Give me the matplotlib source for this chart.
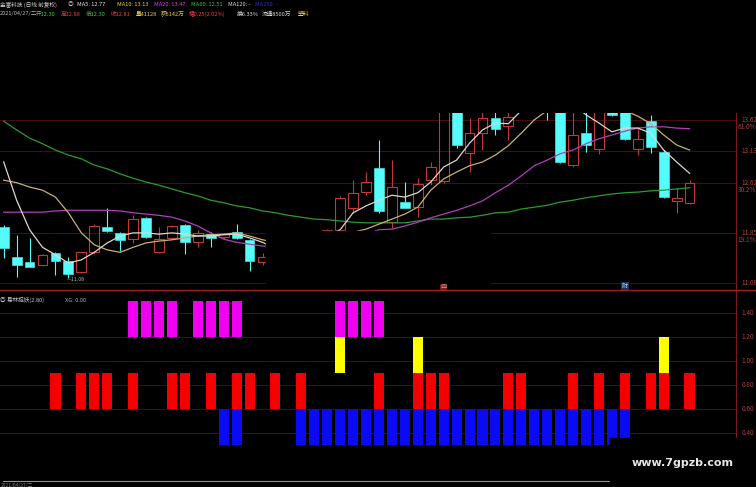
import matplotlib
matplotlib.use('Agg')
import matplotlib.pyplot as plt
from matplotlib.patches import Rectangle
from matplotlib.lines import Line2D
from matplotlib.transforms import blended_transform_factory

plt.rcParams['font.family'] = ['Noto Sans CJK SC', 'DejaVu Sans']

# daily candles
opens = [11.89, 11.42, 11.34, 11.29, 11.48, 11.35, 11.18, 11.49, 11.89, 11.80,
         11.70, 12.04, 11.49, 11.72, 11.93, 11.65, 11.78, 11.73, 11.81, 11.69,
         11.34, 11.40, 11.42, 11.50, 11.58, 11.66, 11.85, 12.20, 12.45, 12.83,
         11.97, 12.29, 12.21, 12.64, 12.62, 14.00, 13.07, 13.39, 13.63, 13.50,
         13.75, 14.30, 14.40, 14.00, 12.88, 13.39, 13.14, 13.90, 13.90, 13.14,
         13.58, 13.09, 12.31, 12.28]
highs = [11.92, 11.77, 11.72, 11.47, 11.50, 11.41, 11.50, 11.94, 12.20, 11.82,
         12.08, 12.06, 11.89, 11.92, 11.94, 11.85, 11.81, 11.80, 11.94, 11.70,
         11.48, 11.45, 11.55, 11.62, 11.70, 11.86, 12.38, 12.64, 12.77, 13.28,
         12.96, 12.61, 12.67, 12.93, 14.05, 14.30, 13.63, 13.78, 13.72, 13.90,
         14.40, 14.70, 14.60, 14.10, 13.80, 13.75, 13.85, 14.00, 14.00, 13.49,
         13.68, 13.12, 12.52, 12.64]
lows = [11.40, 11.10, 11.25, 11.27, 11.13, 11.08, 11.16, 11.47, 11.82, 11.51,
        11.64, 11.72, 11.48, 11.70, 11.46, 11.57, 11.57, 11.70, 11.71, 11.19,
        11.29, 11.36, 11.38, 11.45, 11.52, 11.60, 11.83, 12.12, 12.40, 12.12,
        11.88, 12.19, 12.05, 12.56, 12.60, 13.15, 12.77, 13.12, 13.36, 13.28,
        13.72, 14.00, 13.60, 12.92, 12.85, 13.09, 13.05, 13.66, 13.28, 13.04,
        13.07, 12.36, 12.12, 12.26]
closes = [11.56, 11.29, 11.26, 11.45, 11.35, 11.14, 11.49, 11.91, 11.83, 11.69,
          12.02, 11.73, 11.70, 11.91, 11.65, 11.80, 11.72, 11.78, 11.72, 11.35,
          11.42, 11.41, 11.50, 11.58, 11.66, 11.84, 12.36, 12.44, 12.61, 12.15,
          12.53, 12.20, 12.58, 12.85, 14.05, 13.20, 13.39, 13.63, 13.46, 13.65,
          14.30, 14.45, 13.95, 12.93, 13.36, 13.20, 13.75, 13.68, 13.30, 13.30,
          13.17, 12.37, 12.36, 12.60]

# moving averages
ma5 = [12.93, 12.32, 11.85, 11.57, 11.45, 11.32, 11.37, 11.49, 11.64, 11.75,
       11.80, 11.80, 11.78, 11.80, 11.78, 11.75, 11.75, 11.77, 11.78, 11.72,
       11.65, 11.55, 11.50, 11.55, 11.65, 11.75, 11.85, 12.12, 12.23, 12.32,
       12.40, 12.37, 12.44, 12.61, 12.85, 12.96, 13.23, 13.44, 13.55, 13.54,
       13.75, 13.95, 14.05, 13.95, 13.85, 13.68, 13.55, 13.41, 13.47, 13.47,
       13.39, 13.12, 12.93, 12.75]
ma10 = [12.64, 12.60, 12.53, 12.48, 12.37, 12.12, 11.80, 11.61, 11.53, 11.49,
        11.57, 11.64, 11.67, 11.69, 11.72, 11.75, 11.77, 11.78, 11.80, 11.75,
        11.69, 11.65, 11.62, 11.62, 11.65, 11.70, 11.75, 11.81, 11.86, 11.94,
        12.02, 12.10, 12.21, 12.48, 12.66, 12.77, 12.87, 12.93, 13.04, 13.19,
        13.39, 13.60, 13.75, 13.85, 13.90, 13.95, 13.90, 13.85, 13.75, 13.66,
        13.54, 13.36, 13.20, 13.12]
ma20 = [12.13, 12.13, 12.13, 12.13, 12.15, 12.16, 12.16, 12.16, 12.16, 12.15,
        12.12, 12.10, 12.08, 12.05, 11.99, 11.91, 11.80, 11.70, 11.65, 11.62,
        11.59, 11.58, 11.57, 11.57, 11.58, 11.60, 11.64, 11.70, 11.78, 11.85,
        11.86, 11.91, 11.97, 12.04, 12.10, 12.16, 12.23, 12.31, 12.44, 12.56,
        12.71, 12.87, 12.96, 13.06, 13.12, 13.22, 13.30, 13.36, 13.42, 13.47,
        13.49, 13.49, 13.47, 13.46]
ma60 = [13.58, 13.44, 13.31, 13.22, 13.12, 13.04, 12.98, 12.88, 12.82, 12.74,
        12.67, 12.61, 12.56, 12.50, 12.44, 12.39, 12.32, 12.28, 12.23, 12.20,
        12.15, 12.12, 12.08, 12.05, 12.02, 12.01, 11.99, 11.97, 11.96, 11.96,
        11.96, 11.96, 11.99, 12.02, 12.02, 12.04, 12.05, 12.08, 12.12, 12.13,
        12.18, 12.21, 12.24, 12.29, 12.32, 12.36, 12.39, 12.42, 12.44, 12.45,
        12.47, 12.48, 12.50, 12.52]

# indicator sticks: which days get which block
red_days = [4, 6, 7, 8, 10, 13, 14, 16, 18, 19, 21, 23, 29, 32, 33, 34,
            39, 40, 44, 46, 48, 50, 51, 53]
magenta_days = [10, 11, 12, 13, 15, 16, 17, 18, 26, 27, 28, 29]
yellow_days = [26, 32, 51]
blue_days = [17, 18, 23, 24, 25, 26, 27, 28, 29, 30, 31, 32, 33, 34, 35,
             36, 37, 38, 39, 40, 41, 42, 43, 44, 45, 46, 47, 48]

price_ticks = [13.6, 13.1, 12.6, 11.8, 11.0]
price_labels = ['13.62', '13.13', '12.62', '11.85', '11.08']
price_sub = {13.6: '61.0%', 12.6: '30.2%', 11.8: '19.1%'}
ind_ticks = [1.4, 1.2, 1.0, 0.8, 0.6, 0.4]
ind_labels = ['1.40', '1.20', '1.00', '0.80', '0.60', '0.40']

W, H = 756, 487
fig = plt.figure(figsize=(W / 100, H / 100), dpi=100, facecolor='black')


def fx(x):
    return x / W


def fy(y):
    return 1 - y / H


ax = fig.add_axes([0, fy(290), 736 / W, (290 - 113) / H])
ax2 = fig.add_axes([0, fy(480), 736 / W, (480 - 290) / H])
for a in (ax, ax2):
    a.set_facecolor('black')
    a.set_xticks([])
    a.set_yticks([])
    for s in a.spines.values():
        s.set_visible(False)
    a.set_xlim(-0.286, 56.59)

ax.set_ylim(10.89, 13.71)
ax2.set_ylim(0.008, 1.592)

grid_col = '#4c1414'
for p in price_ticks:
    ax.axhline(p, color=grid_col, lw=0.6, zorder=0)
for v in ind_ticks:
    ax2.axhline(v, color=grid_col, lw=0.6, zorder=0)

# candles
up_col = '#c03838'
dn_col = '#54fcfc'
w = 0.76
for i in range(len(opens)):
    o, h, l, c = opens[i], highs[i], lows[i], closes[i]
    col = up_col if c >= o else dn_col
    ax.vlines(i, l, min(o, c), color=col, lw=0.8, zorder=2)
    ax.vlines(i, max(o, c), h, color=col, lw=0.8, zorder=2)
    if c >= o:
        ax.add_patch(Rectangle((i - w / 2, o), w, max(c - o, 0.01), fill=False,
                               edgecolor=col, lw=0.8, zorder=3))
    else:
        ax.add_patch(Rectangle((i - w / 2, c), w, o - c, facecolor=col,
                               edgecolor=col, lw=0.4, zorder=3))

days = list(range(len(opens)))
ax.plot(days, ma60, color='#2e9a2e', lw=0.9, zorder=4)
ax.plot(days, ma20, color='#b040b8', lw=0.9, zorder=4)
ax.plot(days, ma10, color='#c8b070', lw=0.9, zorder=4)
ax.plot(days, ma5, color='#e0d4d0', lw=0.9, zorder=4)

ax.text(4.9, 11.06, '—11.08', color='#b8b8b8', fontsize=3.8, va='center')
ax.text(34, 10.95, '西', color='#f0a080', fontsize=4.5, ha='center', va='center',
        bbox=dict(boxstyle='square,pad=0.1', fc='#702020', ec='none'))
ax.text(48, 10.95, '财', color='#a0d0ff', fontsize=4.5, ha='center', va='center',
        bbox=dict(boxstyle='square,pad=0.1', fc='#203050', ec='none'))

# indicator blocks
bw = 0.78
ax2.bar(blue_days, 0.3, bottom=0.3, width=bw, color='#0a0af5', linewidth=0)
ax2.bar(red_days, 0.3, bottom=0.6, width=bw, color='#f50000', linewidth=0)
ax2.bar(yellow_days, 0.3, bottom=0.9, width=bw, color='#ffff00', linewidth=0)
ax2.bar(magenta_days, 0.3, bottom=1.2, width=bw, color='#f000f0', linewidth=0)

# right-hand scale labels
lab_col = '#b04040'
tr = blended_transform_factory(ax.transAxes, ax.transData)
for p, lab in zip(price_ticks, price_labels):
    ax.text(1.007, p, lab, transform=tr, color=lab_col, fontsize=4.6,
            va='center', ha='left', clip_on=False)
    if p in price_sub:
        ax.text(1.002, p - 0.11, price_sub[p], transform=tr, color=lab_col,
                fontsize=4.6, va='center', ha='left', clip_on=False)
tr2 = blended_transform_factory(ax2.transAxes, ax2.transData)
for v, lab in zip(ind_ticks, ind_labels):
    ax2.text(1.007, v, lab, transform=tr2, color=lab_col, fontsize=4.6,
             va='center', ha='left', clip_on=False)

# frame lines
fig.add_artist(Line2D([fx(736), fx(736)], [fy(113), fy(438)], color='#7a1c1c', lw=0.8))
fig.add_artist(Line2D([0, 1], [fy(290), fy(290)], color='#a02020', lw=1.0))
fig.add_artist(Line2D([fx(3), fx(610)], [fy(480.5), fy(480.5)], color='#909090', lw=0.8))

# blacked-out patches in the screenshot
fig.add_artist(Rectangle((fx(266), fy(282.5)), (490 - 266) / W, (282.5 - 230.5) / H,
                         transform=fig.transFigure, color='black', zorder=10))
fig.add_artist(Rectangle((fx(610), 0), (W - 610) / W, (H - 438) / H,
                         transform=fig.transFigure, color='black', zorder=10))
fig.text(fx(683), fy(463), 'www.7gpzb.com', color='#e6e6e6', fontsize=8,
         fontweight='bold', family='DejaVu Sans', ha='center', va='center', zorder=11)

# header lines
fs = 4.1
row1 = [(0, '金富科技 (日线 前复权)', '#d0d0d0'), (68, '◎', '#c0c0c0'),
        (77, 'MA5: 12.77', '#e8e8e8'), (117, 'MA10: 13.13', '#e8d040'),
        (154, 'MA20: 13.47', '#e040e0'), (191, 'MA60: 12.51', '#40c040'),
        (228, 'MA120: -', '#d8d8d8'), (255, 'MA250: -', '#2830d0')]
for x, s, c in row1:
    fig.text(fx(x), fy(5), s, color=c, fontsize=fs, va='center', ha='left')
row2 = [(0, '2021/04/27/二', '#c0c0c0'), (36, '开12.30', '#40d040'),
        (61, '高12.88', '#f04040'), (86, '低12.30', '#40d040'),
        (111, '收12.81', '#f04040'), (136, '量41128', '#e8d040'),
        (161, '额5142万', '#e8d040'), (189, '幅0.25(2.02%)', '#f04040'),
        (237, '换6.33%', '#d8d8d8'), (262, '流通8500万', '#d8d8d8'),
        (298, '塑料', '#e8d040')]
for x, s, c in row2:
    fig.text(fx(x), fy(14), s, color=c, fontsize=fs, va='center', ha='left')

fig.text(fx(0), fy(300), '◎ 易林捉妖(2.80)', color='#c8c8c8', fontsize=fs,
         va='center', ha='left')
fig.text(fx(65), fy(300), 'XG: 0.00', color='#b0b0b0', fontsize=fs,
         va='center', ha='left')
fig.text(fx(1), fy(485), '2021/04/27/二', color='#808080', fontsize=3.5,
         va='center', ha='left')

fig.savefig('out.png', dpi=100, facecolor='black')
